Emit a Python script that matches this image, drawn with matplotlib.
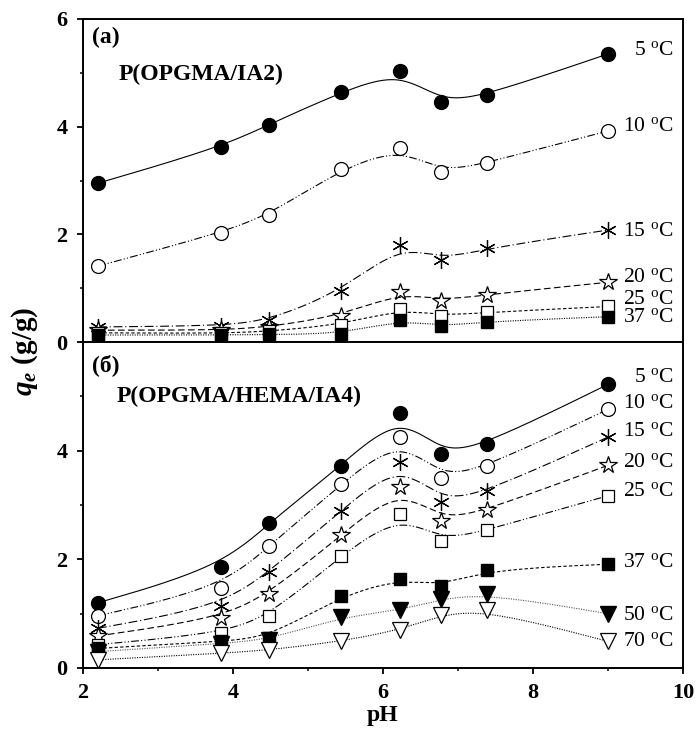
import numpy as np
import matplotlib
matplotlib.use('Agg')
import matplotlib.pyplot as plt
from matplotlib.ticker import MultipleLocator

plt.rcParams['font.family'] = ['Liberation Serif', 'DejaVu Serif']
plt.rcParams['mathtext.fontset'] = 'custom'
plt.rcParams['mathtext.rm'] = 'Liberation Serif'
plt.rcParams['mathtext.it'] = 'Liberation Serif:italic'
plt.rcParams['mathtext.bf'] = 'Liberation Serif:bold'
plt.rcParams['mathtext.bfit'] = 'Liberation Serif:italic:bold'

# pH values (same for both gels)
ph = [2.2, 3.84, 4.48, 5.44, 6.23, 6.78, 7.39, 9.0]

# (a) P(OPGMA/IA2), qe in g/g
a_temps = ['5', '10', '15', '20', '25', '37']
a_5 = [2.95, 3.62, 4.04, 4.64, 5.03, 4.45, 4.59, 5.35]
a_10 = [1.41, 2.03, 2.36, 3.21, 3.61, 3.15, 3.33, 3.92]
a_15 = [0.28, 0.30, 0.40, 0.94, 1.81, 1.53, 1.74, 2.08]
a_20 = [0.22, 0.22, 0.28, 0.49, 0.92, 0.77, 0.88, 1.11]
a_25 = [0.17, 0.16, 0.20, 0.32, 0.61, 0.49, 0.55, 0.66]
a_37 = [0.13, 0.13, 0.14, 0.15, 0.41, 0.29, 0.38, 0.47]

# (б) P(OPGMA/HEMA/IA4)
b_temps = ['5', '10', '15', '20', '25', '37', '50', '70']
b_5 = [1.20, 1.86, 2.67, 3.72, 4.70, 3.93, 4.13, 5.22]
b_10 = [0.96, 1.48, 2.24, 3.38, 4.25, 3.49, 3.71, 4.76]
b_15 = [0.73, 1.14, 1.77, 2.89, 3.80, 3.05, 3.25, 4.25]
b_20 = [0.59, 0.92, 1.37, 2.44, 3.33, 2.71, 2.91, 3.73]
b_25 = [0.43, 0.64, 0.95, 2.07, 2.83, 2.34, 2.54, 3.17]
b_37 = [0.36, 0.49, 0.56, 1.33, 1.64, 1.51, 1.81, 1.91]
b_50 = [0.30, 0.45, 0.52, 0.94, 1.06, 1.27, 1.37, 1.00]
b_70 = [0.15, 0.27, 0.33, 0.49, 0.70, 0.98, 1.07, 0.49]

# text positions of the temperature labels (y, data units)
a_lab_y = [5.42, 4.0, 2.06, 1.2, 0.79, 0.45]
b_lab_y = [5.35, 4.87, 4.35, 3.79, 3.24, 1.94, 0.96, 0.49]


def bspline(x, y, k=40):
    # Origin-like B-spline: data points act as control points
    P = np.column_stack([x, y])
    P = np.vstack([P[0], P[0], P, P[-1], P[-1]])
    t = np.linspace(0, 1, k)
    b0 = (1 - t) ** 3 / 6
    b1 = (3 * t ** 3 - 6 * t ** 2 + 4) / 6
    b2 = (-3 * t ** 3 + 3 * t ** 2 + 3 * t + 1) / 6
    b3 = t ** 3 / 6
    pts = []
    for i in range(len(P) - 3):
        seg = (np.outer(b0, P[i]) + np.outer(b1, P[i + 1]) +
               np.outer(b2, P[i + 2]) + np.outer(b3, P[i + 3]))
        pts.append(seg)
    pts = np.vstack(pts)
    return pts[:, 0], pts[:, 1]


circ_f = dict(marker='o', ms=10, mfc='black', mec='black')
circ_o = dict(marker='o', ms=10, mfc='white', mec='black', mew=0.9)
aster = dict(marker=(6, 2, 0), ms=12, mec='black', mew=0.9)
star_o = dict(marker='*', ms=13, mfc='white', mec='black', mew=0.9)
sq_o = dict(marker='s', ms=8.5, mfc='white', mec='black', mew=0.9)
sq_f = dict(marker='s', ms=8.5, mfc='black', mec='black')
tri_f = dict(marker='v', ms=11, mfc='black', mec='black')
tri_o = dict(marker='v', ms=11, mfc='white', mec='black', mew=0.9)

ls_solid = '-'
ls_dd = (0, (7, 2, 1, 2, 1, 2))
ls_dot_dash = (0, (8, 2.5, 1, 2.5))
ls_dash = (0, (6, 3))
ls_short = (0, (3, 2))
ls_dot = (0, (1, 1.2))

fig = plt.figure(figsize=(6.99, 7.33), dpi=100)
ax1 = fig.add_axes([0.1187, 0.5334, 0.8583, 0.4407])
ax2 = fig.add_axes([0.1187, 0.0887, 0.8583, 0.4447])

a_series = [a_5, a_10, a_15, a_20, a_25, a_37]
a_style = [(ls_solid, circ_f), (ls_dd, circ_o), (ls_dot_dash, aster),
           (ls_dash, star_o), (ls_short, sq_o), (ls_dot, sq_f)]
for yv, (ls, mk) in zip(a_series, a_style):
    sx, sy = bspline(ph, yv)
    ax1.plot(sx, sy, color='black', lw=0.8, linestyle=ls, zorder=2)
    ax1.plot(ph, yv, linestyle='none', zorder=3, **mk)

b_series = [b_5, b_10, b_15, b_20, b_25, b_37, b_50, b_70]
b_style = [(ls_solid, circ_f), (ls_dd, circ_o), (ls_dot_dash, aster),
           (ls_dash, star_o), (ls_dd, sq_o), (ls_short, sq_f),
           (ls_dot, tri_f), (ls_dot, tri_o)]
b_lc = ['black'] * 6 + ['#555555', 'black']
for yv, (ls, mk), lc in zip(b_series, b_style, b_lc):
    sx, sy = bspline(ph, yv)
    ax2.plot(sx, sy, color=lc, lw=0.8, linestyle=ls, zorder=2)
    ax2.plot(ph, yv, linestyle='none', zorder=3, **mk)

for t, y in zip(a_temps, a_lab_y):
    ax1.text(9.87, y, t + r' $^{\rm o}$C', ha='right', va='center', fontsize=15.5)
for t, y in zip(b_temps, b_lab_y):
    ax2.text(9.87, y, t + r' $^{\rm o}$C', ha='right', va='center', fontsize=15.5)

ax1.text(2.12, 5.65, '(a)', fontsize=17, fontweight='bold', va='center')
ax1.text(2.48, 4.97, 'P(OPGMA/IA2)', fontsize=17, fontweight='bold', va='center')
ax2.text(2.12, 5.58, '(б)', fontsize=17, fontweight='bold', va='center')
ax2.text(2.45, 5.0, 'P(OPGMA/HEMA/IA4)', fontsize=17, fontweight='bold', va='center')

for ax in (ax1, ax2):
    ax.set_xlim(2, 10)
    ax.set_ylim(0, 6)
    ax.xaxis.set_major_locator(MultipleLocator(2))
    ax.xaxis.set_minor_locator(MultipleLocator(1))
    ax.yaxis.set_major_locator(MultipleLocator(2))
    ax.yaxis.set_minor_locator(MultipleLocator(1))
    ax.tick_params(which='major', direction='out', length=4, width=1.3,
                   labelsize=16, pad=7)
    ax.tick_params(which='minor', direction='out', length=2.5, width=1.1)
    for sp in ax.spines.values():
        sp.set_linewidth(1.4)

ax1.tick_params(axis='x', labelbottom=False)
ax2.set_yticks([0, 2, 4])
for ax in (ax1, ax2):
    for lab in ax.get_xticklabels() + ax.get_yticklabels():
        lab.set_fontweight('bold')
ax2.set_xlabel('pH', fontsize=17, fontweight='bold', labelpad=1)

fig.text(0.036, 0.52, r'$\mathbfit{q_e}$ $\mathbf{(g/g)}$', rotation=90,
         fontsize=21, ha='center', va='center')

fig.savefig('out.png', dpi=100)
